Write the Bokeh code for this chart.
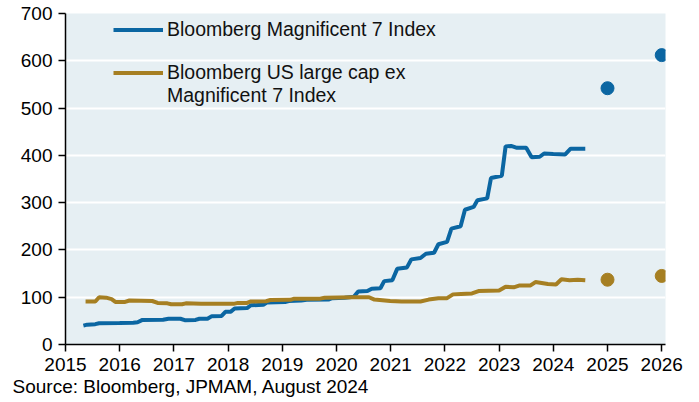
from bokeh.plotting import figure
from bokeh.embed import file_html
from bokeh.resources import INLINE
from bokeh.models import Range1d, Legend, LegendItem, Title, FixedTicker

# ---- data ----
mag7_x = [2015.33, 2015.40, 2015.55, 2015.62, 2016.00, 2016.25, 2016.33, 2016.42, 2016.80, 2016.90,
          2017.12, 2017.20, 2017.40, 2017.47, 2017.62, 2017.70, 2017.88, 2017.95, 2018.05, 2018.12,
          2018.35, 2018.42, 2018.65, 2018.72, 2019.05, 2019.12, 2019.35, 2019.45, 2019.85, 2019.92,
          2020.15, 2020.32, 2020.40, 2020.57, 2020.65, 2020.81, 2020.88, 2021.03, 2021.12, 2021.30,
          2021.38, 2021.55, 2021.65, 2021.80, 2021.88, 2022.04, 2022.12, 2022.29, 2022.37, 2022.53,
          2022.60, 2022.78, 2022.85, 2023.05, 2023.12, 2023.22, 2023.33, 2023.50, 2023.60, 2023.75,
          2023.83, 2024.00, 2024.22, 2024.32, 2024.59]
mag7_y = [40, 42, 43, 45, 45.5, 46, 47, 52, 52.5, 54.5,
          54.5, 51.5, 52, 54.5, 54.5, 60, 60.5, 69, 69.5, 76,
          77, 83, 84, 89, 90, 92, 93, 94.5, 95, 98,
          99, 101, 112, 113, 118, 119, 134, 136, 160, 163,
          180, 183, 192, 194, 212, 217, 245, 250, 285, 291,
          305, 309, 352, 357, 419, 420, 416, 416, 396, 397,
          404, 403, 402, 414, 414]

exmag_x = [2015.37, 2015.55, 2015.62, 2015.75, 2015.85, 2015.92, 2016.10, 2016.18, 2016.60, 2016.70,
           2016.88, 2016.95, 2017.15, 2017.22, 2017.50, 2018.10, 2018.18, 2018.35, 2018.42, 2018.70,
           2018.78, 2019.15, 2019.22, 2019.70, 2019.78, 2020.30, 2020.60, 2020.70, 2020.99, 2021.20,
           2021.55, 2021.70, 2021.88, 2022.04, 2022.15, 2022.30, 2022.50, 2022.62, 2023.00, 2023.12,
           2023.27, 2023.38, 2023.58, 2023.67, 2023.90, 2024.05, 2024.15, 2024.30, 2024.45, 2024.59]
exmag_y = [91, 91, 100, 99, 96, 90, 90, 93, 92, 88,
           87, 85, 85, 87, 86, 86, 88, 88, 91, 91.5,
           94, 94.5, 97, 97, 99, 100, 100, 95, 92, 91,
           91, 95, 98, 98, 106, 107, 108, 113, 114, 122,
           121, 125, 125, 132, 128, 127, 138, 136, 137, 136]

proj_x = [2025, 2026]
proj_mag7 = [542, 612]
proj_exmag = [137, 145]

year_ticks = list(range(2015, 2027))
y_ticks = list(range(0, 701, 100))

label_mag7 = "Bloomberg Magnificent 7 Index"
label_exmag_1 = "Bloomberg US large cap ex"
label_exmag_2 = "Magnificent 7 Index"
source_text = "Source: Bloomberg, JPMAM, August 2024"

BLUE = "#0B66A2"
GOLD = "#A67F22"
FONT = "Liberation Sans"
FS = "19px"
LFS = "19.5px"

p = figure(width=699, height=402, output_backend="svg", toolbar_location=None,
           x_range=Range1d(2015, 2026.07), y_range=Range1d(0, 700),
           min_border_left=65, min_border_top=13, min_border_right=34, min_border_bottom=58)
p.background_fill_color = "#E6EFF3"
p.border_fill_color = "white"
p.outline_line_color = None

l1 = p.line(mag7_x, mag7_y, line_color=BLUE, line_width=4)
l2 = p.line(exmag_x, exmag_y, line_color=GOLD, line_width=4)
blank = p.line([], [], line_alpha=0)
p.scatter(proj_x, proj_mag7, size=13, color=BLUE)
p.scatter(proj_x, proj_exmag, size=13, color=GOLD)

p.xgrid.grid_line_color = None
p.ygrid.grid_line_color = "white"
p.ygrid.grid_line_width = 2

for ax in (p.xaxis[0], p.yaxis[0]):
    ax.axis_line_color = "black"
    ax.axis_line_width = 1.5
    ax.major_tick_line_color = "black"
    ax.major_tick_line_width = 1.5
    ax.major_tick_out = 7
    ax.major_tick_in = 0
    ax.minor_tick_line_color = None
    ax.major_label_text_font = FONT
    ax.major_label_text_font_size = FS
    ax.major_label_text_color = "black"
p.xaxis[0].ticker = FixedTicker(ticks=year_ticks)
p.yaxis[0].ticker = FixedTicker(ticks=y_ticks)
p.xaxis[0].major_label_standoff = 6
p.yaxis[0].major_label_standoff = 6

common = dict(background_fill_alpha=0, border_line_color=None, padding=0, margin=0,
              glyph_width=50, glyph_height=23, label_height=23, label_standoff=4, spacing=0,
              label_text_font=FONT, label_text_font_size=LFS, label_text_color="#111111")
legA = Legend(items=[LegendItem(label=label_mag7, renderers=[l1])], location=(48, 303), **common)
legB = Legend(items=[LegendItem(label=label_exmag_1, renderers=[l2]),
                     LegendItem(label=label_exmag_2, renderers=[blank])],
              location=(48, 237), **common)
p.add_layout(legA)
p.add_layout(legB)

src = Title(text=source_text, align="left", offset=-53,
            text_font=FONT, text_font_size=FS, text_font_style="normal", text_color="black",
            standoff=0)
p.add_layout(src, "below")

open("out.html", "w").write(file_html(p, INLINE))
